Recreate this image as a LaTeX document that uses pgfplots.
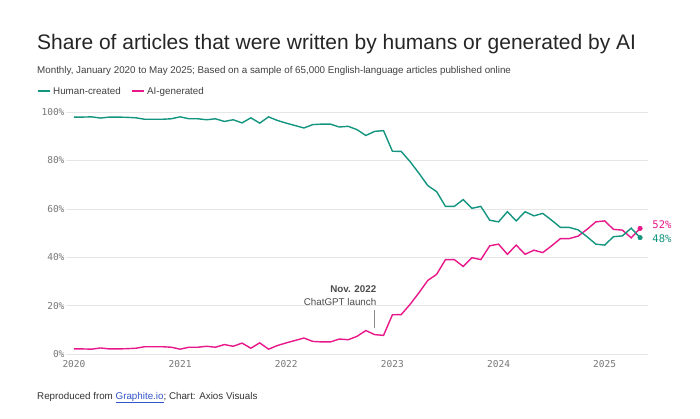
\documentclass[border=0pt]{standalone}
\usepackage{pgfplots}
\pgfplotsset{compat=1.18}
\usepackage{fontspec}
\setmainfont{Liberation Sans}
\newfontfamily\mono{DejaVu Sans Mono}
\definecolor{teal}{HTML}{13957F}
\definecolor{pink}{HTML}{E8178A}
\definecolor{gridc}{HTML}{E6E6E6}
\definecolor{tickc}{HTML}{777777}
\begin{document}
\begin{tikzpicture}[x=1pt,y=1pt]
\path[fill=white] (0,0) rectangle (700,-418);
\node[anchor=base west,inner sep=0pt,font=\fontsize{21}{24}\selectfont,text=black!85] at (37,-49) {Share of articles that were written by humans or generated by AI};
\node[anchor=base west,inner sep=0pt,font=\fontsize{9.8}{11}\selectfont,text=black!75] at (37,-73) {Monthly, January 2020 to May 2025; Based on a sample of 65,000 English-language articles published online};
\draw[teal,line width=1.5pt] (38,-91) -- (50,-91);
\node[anchor=base west,inner sep=0pt,font=\fontsize{9.8}{11}\selectfont,text=black!75] at (53,-94.5) {Human-created};
\draw[pink,line width=1.5pt] (132,-91) -- (144,-91);
\node[anchor=base west,inner sep=0pt,font=\fontsize{9.8}{11}\selectfont,text=black!75] at (147,-94.5) {AI-generated};
\node[anchor=base west,inner sep=0pt,font=\fontsize{9.8}{11}\selectfont,text=black!80] at (37,-399) {Reproduced from \textcolor[HTML]{3355CC}{\underline{Graphite.io}}; Chart: Axios Visuals};
\begin{axis}[at={(66pt,-354pt)},anchor=south west,scale only axis,width=582pt,height=242pt,
 xmin=-0.9,xmax=64.9,ymin=0,ymax=100,
 axis line style={draw=none},tick style={draw=none},
 ymajorgrids,grid style={gridc,line width=0.6pt},
 ytick={0,20,40,60,80,100},yticklabels={0\%,20\%,40\%,60\%,80\%,100\%},
 xtick={0,12,24,36,48,60},xticklabels={2020,2021,2022,2023,2024,2025},
 ticklabel style={font=\mono\fontsize{9.5}{10}\selectfont,text=tickc},
 yticklabel style={xshift=2pt},xticklabel style={yshift=-3pt},
 clip=false]
\addplot[pink,line width=1.4pt] coordinates {
(0,2.1)(1,2.1)(2,2)(3,2.5)(4,2.1)(5,2.1)(6,2.2)(7,2.4)(8,3)(9,3)(10,3)(11,2.8)
(12,2)(13,2.8)(14,2.8)(15,3.2)(16,2.8)(17,3.9)(18,3.2)(19,4.5)(20,2.4)(21,4.6)(22,2)(23,3.5)
(24,4.6)(25,5.6)(26,6.6)(27,5.2)(28,5)(29,5)(30,6.2)(31,5.9)(32,7.3)(33,9.7)(34,8)(35,7.7)
(36,16.2)(37,16.3)(38,20.5)(39,25.3)(40,30.4)(41,32.9)(42,39)(43,39)(44,36.2)(45,39.8)(46,39)(47,44.7)
(48,45.4)(49,41.2)(50,45)(51,41.2)(52,42.9)(53,41.9)(54,44.7)(55,47.7)(56,47.7)(57,48.7)(58,51.5)(59,54.6)
(60,55)(61,51.5)(62,51.2)(63,48)(64,51.9)};
\addplot[teal,line width=1.4pt] coordinates {
(0,97.9)(1,97.9)(2,98)(3,97.5)(4,97.9)(5,97.9)(6,97.8)(7,97.6)(8,97)(9,97)(10,97)(11,97.2)
(12,98)(13,97.2)(14,97.2)(15,96.8)(16,97.2)(17,96.1)(18,96.8)(19,95.5)(20,97.6)(21,95.4)(22,98)(23,96.5)
(24,95.4)(25,94.4)(26,93.4)(27,94.8)(28,95)(29,95)(30,93.8)(31,94.1)(32,92.7)(33,90.3)(34,92)(35,92.3)
(36,83.8)(37,83.7)(38,79.5)(39,74.7)(40,69.6)(41,67.1)(42,61)(43,61)(44,63.8)(45,60.2)(46,61)(47,55.3)
(48,54.6)(49,58.8)(50,55)(51,58.8)(52,57.1)(53,58.1)(54,55.3)(55,52.3)(56,52.3)(57,51.3)(58,48.5)(59,45.4)
(60,45)(61,48.5)(62,48.8)(63,52)(64,48.1)};
\addplot[pink,only marks,mark=*,mark size=2.3pt] coordinates {(64,51.9)};
\addplot[teal,only marks,mark=*,mark size=2.3pt] coordinates {(64,48.1)};
\node[anchor=west,text=pink,font=\mono\fontsize{10.5}{12}\selectfont] at (axis cs:65.0,53.3) {52\%};
\node[anchor=west,text=teal,font=\mono\fontsize{10.5}{12}\selectfont] at (axis cs:65.0,47.5) {48\%};
\draw[black!45,line width=0.8pt] (axis cs:34,10.8) -- (axis cs:34,18);
\node[anchor=south east,align=right,inner sep=0pt,font=\fontsize{9.8}{12.5}\selectfont,text=black!70] at (axis cs:34.2,20) {\textbf{Nov. 2022}\\ChatGPT launch};
\end{axis}
\end{tikzpicture}
\end{document}
